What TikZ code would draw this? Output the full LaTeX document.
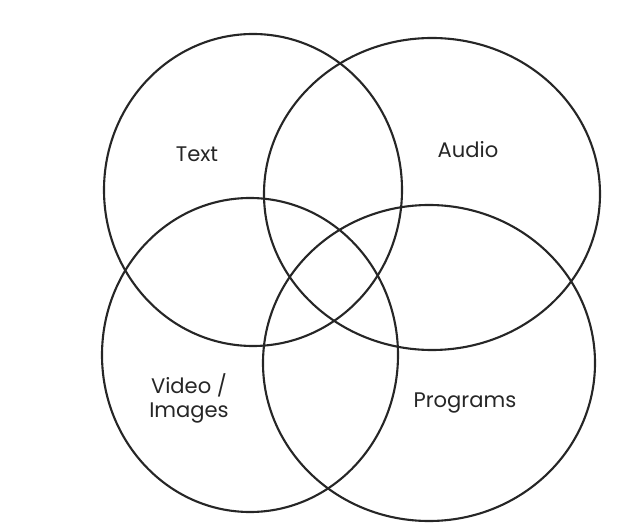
\documentclass[tikz,border=0pt]{standalone}
\usepackage{fontspec}
\setmainfont{Poppins}
\usepackage{tikz}

\begin{document}
\begin{tikzpicture}[x=0.03cm,y=0.03cm,
	set/.style={line width=1.8pt,color=black!85},
	lbl/.style={align=center,inner sep=0pt,text=black!85,font=\fontsize{18}{20}\selectfont}]
	\useasboundingbox (0,0) rectangle (617,524);
	% the four sets
	\draw[set] (253,334) ellipse [x radius=149, y radius=156];
	\draw[set] (432,330) ellipse [x radius=168, y radius=156];
	\draw[set] (250,169) ellipse [x radius=148, y radius=157];
	\draw[set] (429,161) ellipse [x radius=166, y radius=158];
	%\draw[very thin,color=gray,step=50] (0,0) grid (617,524);
	\node[lbl] (text) at (197,369.5) {Text};
	\node[lbl] (audio) at (468,374.5) {Audio};
	\node[lbl] (video) at (189,125.5) {Video /\\Images};
	\node[lbl] (programs) at (465,121) {Programs};
\end{tikzpicture}
\end{document}
